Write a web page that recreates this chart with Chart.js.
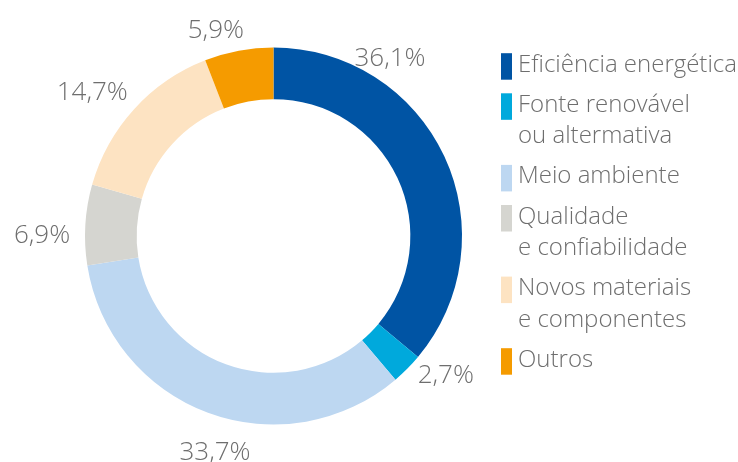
<!DOCTYPE html>
<html>
<head>
<meta charset="utf-8">
<script src="https://cdn.jsdelivr.net/npm/chart.js@4/dist/chart.umd.min.js"></script>
<style>
    html, body { margin: 0; padding: 0; background: #fff; }
</style>
</head>
<body>
<canvas id="researchChart" width="738" height="462"></canvas>
<script>
// categories (each entry = legend lines)
const categories = [
    ["Eficiência energética"],
    ["Fonte renovável", "ou altermativa"],
    ["Meio ambiente"],
    ["Qualidade", "e confiabilidade"],
    ["Novos materiais", "e componentes"],
    ["Outros"]
];
const shares = [36.1, 2.7, 33.7, 6.9, 14.7, 5.9];
const sliceColors = ["#0054a4", "#00a9dc", "#bdd7f1", "#d5d5d0", "#fde3c2", "#f59b00"];

// where each % label sits: degrees shifted from slice middle, px beyond outer edge
const labelShift = [-31.9, -6.2, -5.1, -2.9, -3.5, -4.9];
const labelGap = [25, 32, 34, 43, 44, 27];

const textColor = "#6e6e6e";
const fontFamily = "'Open Sans', 'DejaVu Sans', sans-serif";

function pct(v) {
    return v.toFixed(1).replace(".", ",") + "%";
}

const sliceLabels = {
    id: "sliceLabels",
    afterDatasetsDraw(chart) {
        const ctx = chart.ctx;
        const arcs = chart.getDatasetMeta(0).data;
        ctx.save();
        ctx.fillStyle = textColor;
        ctx.font = "300 26px " + fontFamily;
        ctx.textAlign = "center";
        ctx.textBaseline = "alphabetic";
        arcs.forEach(function(arc, i) {
            const p = arc.getProps(["x", "y", "startAngle", "endAngle", "outerRadius"], true);
            const a = (p.startAngle + p.endAngle) / 2 + labelShift[i] * Math.PI / 180;
            const r = p.outerRadius + labelGap[i];
            const cx = p.x + Math.cos(a) * r;
            const cy = p.y + Math.sin(a) * r;
            ctx.fillText(pct(shares[i]), cx, cy + 9.3);
        });
        ctx.restore();
    }
};

const sideLegend = {
    id: "sideLegend",
    afterDraw(chart) {
        const ctx = chart.ctx;
        const boxX = 501, boxW = 11, textX = 518;
        const lineStep = 31.5, itemStep = 40.1;
        let baseline = 71.7;
        ctx.save();
        ctx.font = "300 24px " + fontFamily;
        ctx.textAlign = "left";
        ctx.textBaseline = "alphabetic";
        categories.forEach(function(lines, i) {
            ctx.fillStyle = sliceColors[i];
            ctx.fillRect(boxX, baseline - 18.5, boxW, 26.5);
            ctx.fillStyle = textColor;
            lines.forEach(function(line, j) {
                ctx.fillText(line, textX, baseline + j * lineStep);
            });
            baseline += (lines.length - 1) * lineStep + itemStep;
        });
        ctx.restore();
    }
};

new Chart(document.getElementById("researchChart").getContext("2d"), {
    type: "doughnut",
    data: {
        labels: categories.map(function(l) { return l.join(" "); }),
        datasets: [{
            data: shares,
            backgroundColor: sliceColors,
            borderWidth: 0,
            hoverOffset: 0
        }]
    },
    options: {
        responsive: false,
        animation: false,
        cutout: "72.6%",
        layout: { padding: { top: 47.5, bottom: 37.5, left: 0, right: 191 } },
        plugins: {
            legend: { display: false },
            tooltip: { enabled: false }
        }
    },
    plugins: [sliceLabels, sideLegend]
});
</script>
</body>
</html>
